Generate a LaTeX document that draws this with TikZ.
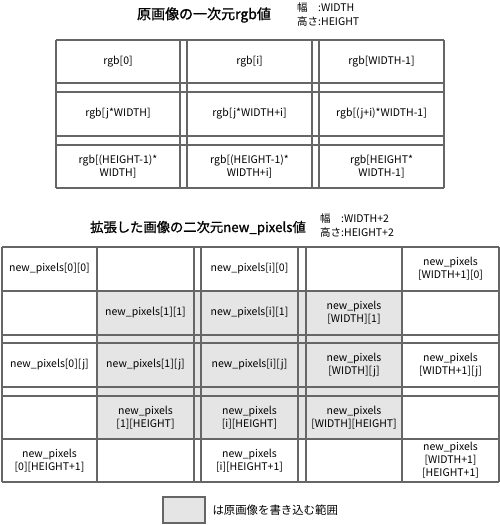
\documentclass[tikz,border=0pt]{standalone}
\usepackage{fontspec}
\setmainfont{Noto Sans CJK JP}
\newfontfamily\headfont[FakeBold=1.2]{Noto Sans CJK JP}
\tikzset{
  grid/.style={draw=black!60, line width=1.1pt},
  cell/.style={font=\fontsize{10.5}{13}\selectfont, align=center, inner sep=0pt},
  title/.style={font=\headfont\fontsize{14}{16}\selectfont},
  note/.style={font=\fontsize{10.5}{14}\selectfont, align=left, anchor=north west, inner sep=0pt}
}
\newcommand{\wlabel}{\makebox[2em][l]{幅}}
\begin{document}
\begin{tikzpicture}[x=1pt, y=-1pt]
 \useasboundingbox (0,0) rectangle (500,525);
 % original image
 \node[title] (ttl1) at (204,15) {原画像の一次元rgb値};
 \node[note] (size1) at (297,2) {\wlabel:WIDTH\\高さ:HEIGHT};
 \foreach \y in {40,83,92,136,145,188}
  \draw[grid] (56,\y) -- (444,\y);
 \foreach \x in {56,180,187,312,319,444}
  \draw[grid] (\x,40) -- (\x,188);
 \node[cell] (rgbA) at (118,61.5) {rgb[0]};
 \node[cell] (rgbB) at (249.5,61.5) {rgb[i]};
 \node[cell] (rgbC) at (381.5,61.5) {rgb[WIDTH-1]};
 \node[cell] (rgbD) at (118,114) {rgb[j*WIDTH]};
 \node[cell] (rgbE) at (249.5,114) {rgb[j*WIDTH+i]};
 \node[cell] (rgbF) at (381.5,114) {rgb[(j+i)*WIDTH-1]};
 \node[cell] (rgbG) at (118,166.5) {rgb[(HEIGHT-1)*\\WIDTH]};
 \node[cell] (rgbH) at (249.5,166.5) {rgb[(HEIGHT-1)*\\WIDTH+i]};
 \node[cell] (rgbI) at (381.5,166.5) {rgb[HEIGHT*\\WIDTH-1]};
 % extended image
 \node[title, font=\headfont\fontsize{13.3}{16}\selectfont] (ttl2) at (198,228) {拡張した画像の二次元new\_pixels値};
 \node[note] (size2) at (320,213) {\wlabel:WIDTH+2\\高さ:HEIGHT+2};
 \fill[black!10] (97,291) rectangle (402,439);
 \foreach \y in {247,291,335,343,387,396,439,482}
  \draw[grid] (2,\y) -- (499,\y);
 \foreach \x in {2,97,194,201,298,306,402,499}
  \draw[grid] (\x,247) -- (\x,482);
 \node[cell] (npA) at (49.5,269) {new\_pixels[0][0]};
 \node[cell] (npB) at (249.5,269) {new\_pixels[i][0]};
 \node[cell] (npC) at (450.5,269) {new\_pixels\\{}[WIDTH+1][0]};
 \node[cell] (npD) at (145.5,313) {new\_pixels[1][1]};
 \node[cell] (npE) at (249.5,313) {new\_pixels[i][1]};
 \node[cell] (npF) at (354,313) {new\_pixels\\{}[WIDTH][1]};
 \node[cell] (npG) at (49.5,365) {new\_pixels[0][j]};
 \node[cell] (npH) at (145.5,365) {new\_pixels[1][j]};
 \node[cell] (npI) at (249.5,365) {new\_pixels[i][j]};
 \node[cell] (npJ) at (354,365) {new\_pixels\\{}[WIDTH][j]};
 \node[cell] (npK) at (450.5,365) {new\_pixels\\{}[WIDTH+1][j]};
 \node[cell] (npL) at (145.5,417.5) {new\_pixels\\{}[1][HEIGHT]};
 \node[cell] (npM) at (249.5,417.5) {new\_pixels\\{}[i][HEIGHT]};
 \node[cell] (npN) at (354,417.5) {new\_pixels\\{}[WIDTH][HEIGHT]};
 \node[cell] (npO) at (49.5,460.5) {new\_pixels\\{}[0][HEIGHT+1]};
 \node[cell] (npP) at (249.5,460.5) {new\_pixels\\{}[i][HEIGHT+1]};
 \node[cell] (npQ) at (450.5,460.5) {new\_pixels\\{}[WIDTH+1]\\{}[HEIGHT+1]};
 % legend
 \draw[grid, fill=black!10] (163,497) rectangle (205,523);
 \node[anchor=west, font=\fontsize{11.4}{13}\selectfont] (lgd) at (209,510) {は原画像を書き込む範囲};
\end{tikzpicture}
\end{document}
